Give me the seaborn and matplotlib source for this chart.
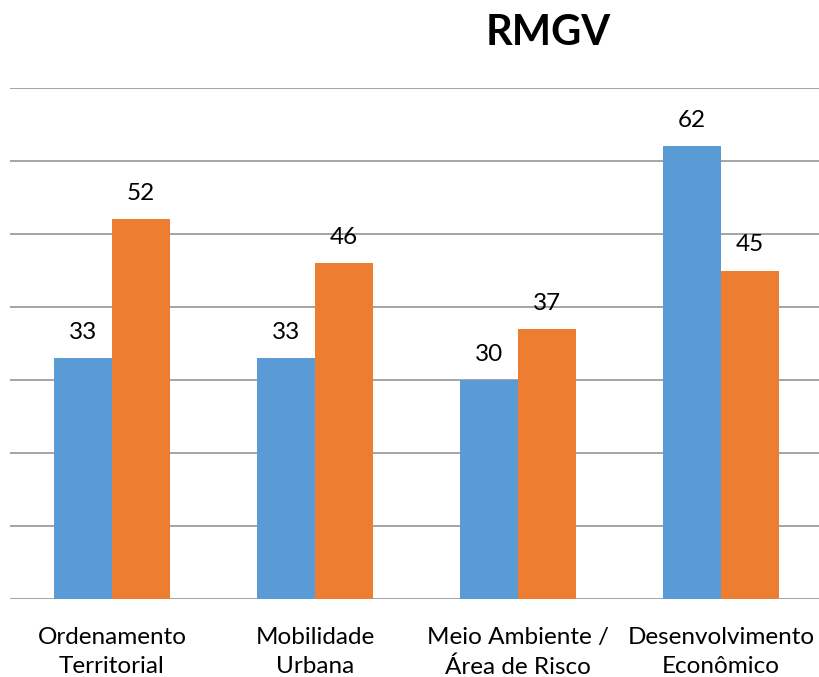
import pandas as pd
import matplotlib.pyplot as plt
import seaborn as sns

categorias = ["Ordenamento\nTerritorial", "Mobilidade\nUrbana",
              "Meio Ambiente /\nÁrea de Risco", "Desenvolvimento\nEconômico"]
serie_1 = [33, 33, 30, 62]
serie_2 = [52, 46, 37, 45]
series = ["Série 1", "Série 2"]

df = pd.DataFrame({
    "categoria": categorias * 2,
    "valor": serie_1 + serie_2,
    "serie": [series[0]] * 4 + [series[1]] * 4,
})

sns.set_style("white")
plt.rcParams["font.family"] = ["Lato", "DejaVu Sans"]
plt.rcParams["text.color"] = "black"
plt.rcParams["xtick.color"] = "black"

fig = plt.figure(figsize=(8.2, 6.77), dpi=100)
ax = fig.add_axes([10.5 / 820, 78 / 677, 1 - 10.5 / 820, 511 / 677])

sns.barplot(
    data=df, x="categoria", y="valor", hue="serie",
    palette=["#5B9BD5", "#ED7D31"], width=0.571, gap=0,
    linewidth=0, saturation=1, legend=False, ax=ax, zorder=3,
)

for cont in ax.containers:
    ax.bar_label(cont, padding=11, fontsize=17.5, color="black")

ax.set_ylim(0, 70)
ax.set_xlim(-0.5, 3.488)
ax.set_yticks(range(0, 71, 10))
ax.yaxis.grid(True, color="#8c8c8c", linewidth=1.1, zorder=0)
ax.set_yticklabels([])
ax.tick_params(axis="y", length=0)
ax.tick_params(axis="x", length=0, labelsize=17.5, pad=20, labelcolor="black")
for lab in ax.get_xticklabels():
    lab.set_linespacing(1.5)
ax.set_xlabel("")
ax.set_ylabel("")
for s in ax.spines.values():
    s.set_visible(False)

fig.text(548 / 820, 1 - 33 / 677, "RMGV", ha="center", va="center",
         fontsize=30, fontweight="bold", color="black")

fig.savefig("out.png", dpi=100)
